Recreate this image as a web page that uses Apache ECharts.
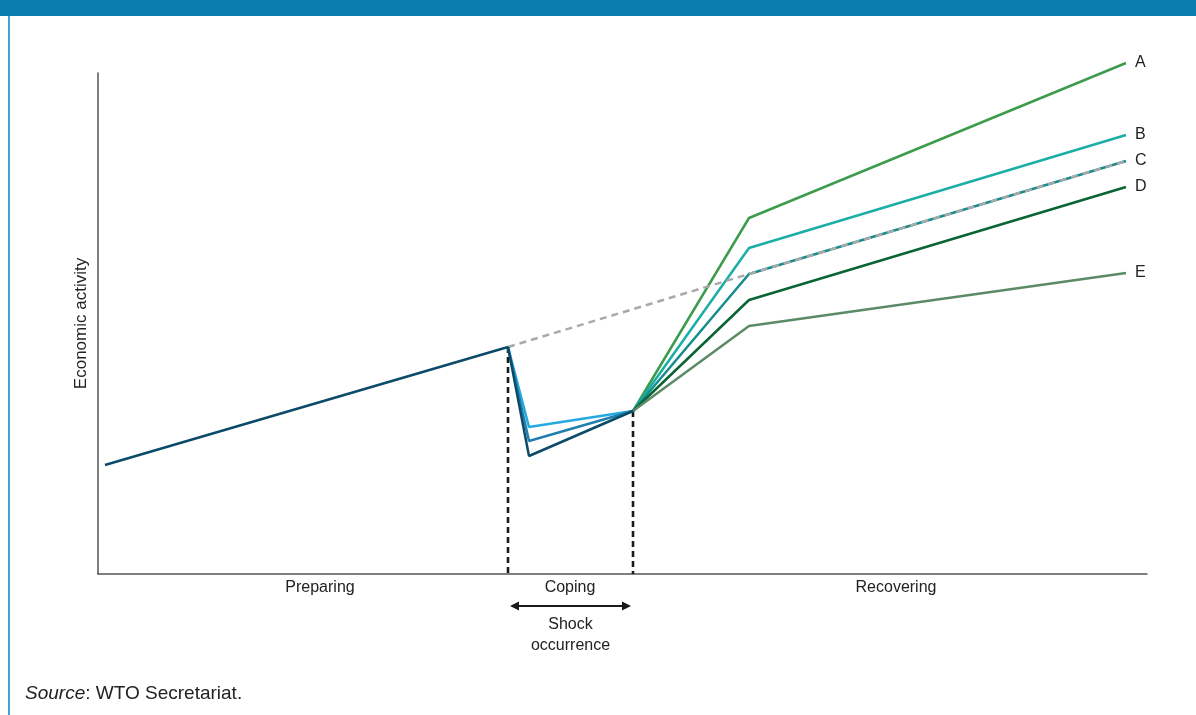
<!DOCTYPE html>
<html>
<head>
<meta charset="utf-8">
<script src="https://cdn.jsdelivr.net/npm/echarts@6/dist/echarts.min.js"></script>
<style>
html,body{margin:0;padding:0;background:#fff;}
#chart{width:1196px;height:715px;}
</style>
</head>
<body>
<div id="chart"></div>
<script>
// ---- data (x: time along the process, y: economic activity, arbitrary units) ----
const xStart = 7, xShock = 410, xTrough = 431, xRecover = 535, xKink = 651, xEnd = 1028;
const preparingValues = [109, 227];           // start, shock
const troughValues = [147, 133, 118];         // light, mid, dark coping paths
const recoverValue = 163;                     // end of coping
const scenarioNames = ['A', 'B', 'C', 'D', 'E'];
const kinkValues = [356, 326, 300, 274, 248];
const endValues = [511, 439, 413, 387, 301];
const trendValues = [227, 300, 413];          // counterfactual trend (shock, kink, end)
const phaseNames = ['Preparing', 'Coping', 'Recovering'];
const phaseCenters = [222, 472, 798];
const shockLabel = ['Shock', 'occurrence'];
const yAxisName = 'Economic activity';
const sourceLabel = 'WTO Secretariat.';

const scenarioColors = ['#3d9b4c', '#1aaea6', '#168c8c', '#0b6433', '#5b8a66'];
const troughColors = ['#24a9e1', '#1f7fae', '#0b4a68'];
const FONT = '"Liberation Sans", Arial, Helvetica, sans-serif';

const chart = echarts.init(document.getElementById('chart'), null, {renderer: 'canvas'});

const series = [];
// drop lines
[[xShock, preparingValues[1]], [xRecover, recoverValue]].forEach(p => {
  series.push({
    type: 'line', data: [[p[0], p[1]], [p[0], 0]], symbol: 'none', silent: true,
    lineStyle: {color: '#1a1a1a', width: 2.6, type: [6, 4]}, z: 1
  });
});
// recovery scenarios
scenarioNames.forEach((n, i) => {
  series.push({
    name: n, type: 'line', clip: false, symbol: 'none',
    data: [[xRecover, recoverValue], [xKink, kinkValues[i]], [xEnd, endValues[i]]],
    lineStyle: {color: scenarioColors[i], width: 2.5},
    endLabel: {show: true, formatter: '{a}', distance: 9, fontSize: 16, color: '#222', fontFamily: FONT},
    z: 3
  });
});
// trend (dashed)
series.push({
  type: 'line', symbol: 'none', clip: false,
  data: [[xShock, trendValues[0]], [xKink, trendValues[1]], [xEnd, trendValues[2]]],
  lineStyle: {color: '#a9a9a9', width: 2.5, type: [7, 5]}, z: 4
});
// coping troughs
troughValues.forEach((v, i) => {
  series.push({
    type: 'line', symbol: 'none',
    data: [[xShock, preparingValues[1]], [xTrough, v], [xRecover, recoverValue]],
    lineStyle: {color: troughColors[i], width: 2.5}, z: 5
  });
});
// preparing
series.push({
  type: 'line', symbol: 'none',
  data: [[xStart, preparingValues[0]], [xShock, preparingValues[1]]],
  lineStyle: {color: troughColors[2], width: 2.5}, z: 6
});

chart.setOption({
  animation: false,
  backgroundColor: '#ffffff',
  grid: {left: 98, top: 73, right: 49, bottom: 141},
  xAxis: {
    type: 'value', min: 0, max: 1049,
    axisLine: {show: true, lineStyle: {color: '#555', width: 1.5}},
    axisTick: {show: false}, splitLine: {show: false},
    axisLabel: {
      customValues: phaseCenters, margin: 6, fontSize: 16, color: '#222', fontFamily: FONT,
      formatter: v => phaseNames[phaseCenters.indexOf(v)] || ''
    }
  },
  yAxis: {
    type: 'value', min: 0, max: 501,
    axisLine: {show: true, lineStyle: {color: '#555', width: 1.5}},
    axisTick: {show: false}, axisLabel: {show: false}, splitLine: {show: false},
    name: yAxisName, nameLocation: 'middle', nameGap: 8, nameRotate: 90,
    nameTextStyle: {fontSize: 17, color: '#222', fontFamily: FONT}
  },
  series: series
});

// arrow and annotations below the axis
const pA = chart.convertToPixel({gridIndex: 0}, [xShock, 0]);
const pB = chart.convertToPixel({gridIndex: 0}, [xRecover, 0]);
const ay = pA[1] + 32;
const xl = pA[0] + 2, xr = pB[0] - 2, mid = (pA[0] + pB[0]) / 2;
chart.setOption({
  graphic: [
    {type: 'rect', shape: {x: 0, y: 0, width: 1196, height: 16}, style: {fill: '#0a7cae'}, silent: true},
    {type: 'rect', shape: {x: 8, y: 16, width: 2, height: 699}, style: {fill: '#45a3d3'}, silent: true},
    {type: 'line', shape: {x1: xl + 6, y1: ay, x2: xr - 6, y2: ay}, style: {stroke: '#1a1a1a', lineWidth: 2}},
    {type: 'polygon', shape: {points: [[xl, ay], [xl + 9, ay - 4.5], [xl + 9, ay + 4.5]]}, style: {fill: '#1a1a1a'}},
    {type: 'polygon', shape: {points: [[xr, ay], [xr - 9, ay - 4.5], [xr - 9, ay + 4.5]]}, style: {fill: '#1a1a1a'}},
    {type: 'text', x: mid, y: ay + 19, style: {text: shockLabel[0], fill: '#222', fontSize: 16, fontFamily: FONT, align: 'center', verticalAlign: 'middle'}},
    {type: 'text', x: mid, y: ay + 40, style: {text: shockLabel[1], fill: '#222', fontSize: 16, fontFamily: FONT, align: 'center', verticalAlign: 'middle'}},
    {type: 'text', x: 25, y: 694, style: {
      text: '{i|Source}: ' + sourceLabel, fill: '#222', fontSize: 19, fontFamily: FONT, verticalAlign: 'middle',
      rich: {i: {fontStyle: 'italic', fontSize: 19, fontFamily: FONT, fill: '#222'}}
    }}
  ]
});
</script>
</body>
</html>
